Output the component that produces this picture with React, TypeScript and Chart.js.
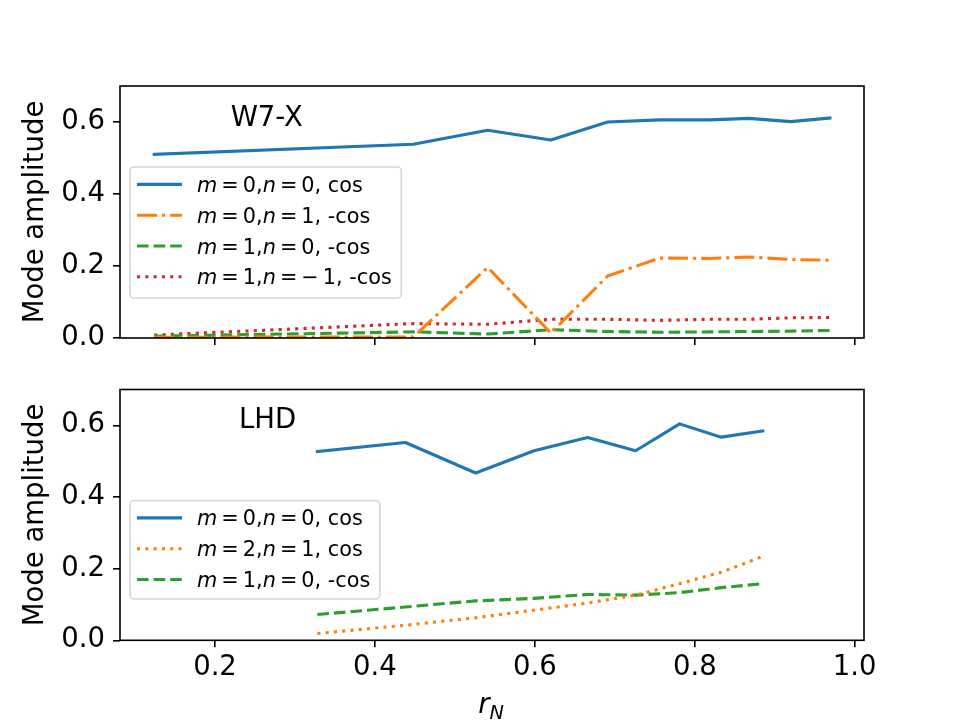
import React, { useEffect, useRef } from 'react';
import { Chart, registerables } from 'chart.js';
Chart.register(...registerables);

// ---------- data ----------
const W7X_R = [0.124, 0.448, 0.541, 0.62, 0.691, 0.756, 0.819, 0.868, 0.92, 0.969];
const W7X_M0N0_COS = [0.51, 0.538, 0.577, 0.55, 0.6, 0.606, 0.606, 0.61, 0.601, 0.611];
const W7X_M0N1_MCOS = [0.002, 0.003, 0.196, 0.014, 0.172, 0.222, 0.221, 0.225, 0.218, 0.216];
const W7X_M1N0_MCOS = [0.005, 0.017, 0.011, 0.023, 0.018, 0.016, 0.017, 0.018, 0.019, 0.021];
const W7X_M1NM1_MCOS = [0.008, 0.04, 0.038, 0.052, 0.052, 0.049, 0.052, 0.052, 0.056, 0.057];

const LHD_R = [0.328, 0.438, 0.526, 0.599, 0.666, 0.726, 0.781, 0.833, 0.885];
const LHD_M0N0_COS = [0.527, 0.552, 0.467, 0.529, 0.566, 0.529, 0.604, 0.567, 0.584];
const LHD_M2N1_COS = [0.019, 0.042, 0.063, 0.084, 0.104, 0.126, 0.158, 0.19, 0.234];
const LHD_M1N0_MCOS = [0.072, 0.093, 0.11, 0.117, 0.128, 0.126, 0.133, 0.147, 0.158];

const W7X_LABELS = ['m = 0,n = 0, cos', 'm = 0,n = 1, -cos', 'm = 1,n = 0, -cos', 'm = 1,n = − 1, -cos'];
const LHD_LABELS = ['m = 0,n = 0, cos', 'm = 2,n = 1, cos', 'm = 1,n = 0, -cos'];

const X_TICK_STEP = 0.2;
const Y_TICK_STEP = 0.2;
const X_MIN = 0.0812;
const X_MAX = 1.0116;
const Y_MIN = 0;
const Y_MAX = 0.7;

// ---------- style ----------
const FAMILY = '"DejaVu Sans", sans-serif';
const TICK_PX = 27.5;
const LEG_PX = 20.8;
const BLUE = '#1f77b4';
const ORANGE = '#ff7f0e';
const GREEN = '#2ca02c';
const RED = '#d62728';
const SOLID: number[] = [];
const DASHED = [11.6, 5];
const DASHDOT = [20, 5, 3.1, 5];
const DOTTED = [3.1, 5.2];

type Series = { label: string; values: number[]; color: string; dash: number[] };

function drawMathText(ctx: CanvasRenderingContext2D, text: string, x: number, y: number, px: number) {
  let cx = x;
  const chars = Array.from(text);
  for (let i = 0; i < chars.length; i++) {
    const ch = chars[i];
    if (ch === ' ') {
      const prev = chars[i - 1];
      const next = chars[i + 1];
      if (prev === '=' || next === '=' || prev === '−' || next === '−') {
        cx += 0.195 * px;
      } else {
        ctx.font = `${px}px ${FAMILY}`;
        cx += ctx.measureText(' ').width;
      }
      continue;
    }
    const italic = ch === 'm' || ch === 'n';
    ctx.font = `${italic ? 'italic ' : ''}${px}px ${FAMILY}`;
    ctx.fillText(ch, cx, y);
    cx += ctx.measureText(ch).width;
  }
  return cx - x;
}

function measureMathText(ctx: CanvasRenderingContext2D, text: string, px: number) {
  ctx.save();
  ctx.globalAlpha = 0;
  const w = drawMathText(ctx, text, -9999, -9999, px);
  ctx.restore();
  return w;
}

function makePlugin(opts: {
  name: string; nameX: number; nameY: number; xLabel: boolean;
  legendBottomOffset: number; rowPitch: number;
}) {
  return {
    id: 'mplDecor',
    afterDraw(chart: any) {
      const { ctx, chartArea: a, scales } = chart;
      ctx.save();
      // frame
      ctx.strokeStyle = '#000';
      ctx.lineWidth = 1.6;
      ctx.setLineDash([]);
      ctx.strokeRect(a.left, a.top, a.right - a.left, a.bottom - a.top);

      // y label
      ctx.fillStyle = '#000';
      ctx.save();
      ctx.translate(42.7, (a.top + a.bottom) / 2);
      ctx.rotate(-Math.PI / 2);
      ctx.font = `${TICK_PX}px ${FAMILY}`;
      ctx.textAlign = 'center';
      ctx.textBaseline = 'alphabetic';
      ctx.fillText('Mode amplitude', 0, 0);
      ctx.restore();

      // device name
      ctx.font = `${TICK_PX}px ${FAMILY}`;
      ctx.textAlign = 'left';
      ctx.textBaseline = 'alphabetic';
      ctx.fillText(opts.name, scales.x.getPixelForValue(opts.nameX), scales.y.getPixelForValue(opts.nameY));

      // legend
      const ds = chart.data.datasets;
      const n = ds.length;
      let maxW = 0;
      for (const d of ds) maxW = Math.max(maxW, measureMathText(ctx, d.label, LEG_PX));
      const bx = a.left + 10;
      const bh = opts.rowPitch * n + (n === 4 ? 7.8 : 6.1);
      const by = a.bottom - opts.legendBottomOffset - bh;
      const bw = 67 + maxW + 9.5;
      const r = 4;
      ctx.beginPath();
      ctx.moveTo(bx + r, by);
      ctx.lineTo(bx + bw - r, by);
      ctx.arcTo(bx + bw, by, bx + bw, by + r, r);
      ctx.lineTo(bx + bw, by + bh - r);
      ctx.arcTo(bx + bw, by + bh, bx + bw - r, by + bh, r);
      ctx.lineTo(bx + r, by + bh);
      ctx.arcTo(bx, by + bh, bx, by + bh - r, r);
      ctx.lineTo(bx, by + r);
      ctx.arcTo(bx, by, bx + r, by, r);
      ctx.closePath();
      ctx.fillStyle = 'rgba(255,255,255,0.8)';
      ctx.fill();
      ctx.strokeStyle = 'rgba(204,204,204,0.8)';
      ctx.lineWidth = 1.6;
      ctx.stroke();
      for (let i = 0; i < n; i++) {
        const d = ds[i];
        const ry = by + 17.4 + i * opts.rowPitch;
        ctx.beginPath();
        ctx.strokeStyle = d.borderColor;
        ctx.lineWidth = 3.1;
        ctx.setLineDash(d.borderDash || []);
        ctx.lineCap = d.borderDash && d.borderDash.length ? 'butt' : 'square';
        if (ctx.lineCap === 'square') {
          ctx.moveTo(bx + 8.5, ry);
          ctx.lineTo(bx + 50.5, ry);
        } else {
          ctx.moveTo(bx + 7, ry);
          ctx.lineTo(bx + 52, ry);
        }
        ctx.stroke();
        ctx.setLineDash([]);
        ctx.fillStyle = '#000';
        ctx.textAlign = 'left';
        ctx.textBaseline = 'alphabetic';
        drawMathText(ctx, d.label, bx + 67, ry + 7.5, LEG_PX);
      }

      // x label
      if (opts.xLabel) {
        const cx = (a.left + a.right) / 2;
        ctx.fillStyle = '#000';
        ctx.font = `italic ${TICK_PX}px ${FAMILY}`;
        const wr = ctx.measureText('r').width;
        ctx.font = `italic ${TICK_PX * 0.7}px ${FAMILY}`;
        const wn = ctx.measureText('N').width;
        const sx = cx - (wr + wn) / 2 - 1;
        const base = a.bottom + 72.7;
        ctx.font = `italic ${TICK_PX}px ${FAMILY}`;
        ctx.fillText('r', sx, base);
        ctx.font = `italic ${TICK_PX * 0.7}px ${FAMILY}`;
        ctx.fillText('N', sx + wr, base + 6);
      }
      ctx.restore();
    },
  };
}

function buildConfig(xs: number[], series: Series[], o: {
  name: string; nameX: number; nameY: number; showX: boolean; padTop: number; xAxisH: number;
  legendBottomOffset: number;
}) {
  const datasets = series.map((s) => ({
    label: s.label,
    data: xs.map((x, i) => ({ x, y: s.values[i] })),
    borderColor: s.color,
    backgroundColor: s.color,
    borderWidth: 3.1,
    borderDash: s.dash,
    borderCapStyle: s.dash.length ? 'butt' : 'square',
    borderJoinStyle: 'round',
    pointRadius: 0,
    pointHoverRadius: 0,
    fill: false,
    tension: 0,
  }));
  const gridCommon = {
    drawOnChartArea: false,
    drawTicks: true,
    tickLength: 7,
    tickWidth: 1.6,
    tickColor: '#000',
    color: '#000',
    lineWidth: 1.6,
  };
  return {
    type: 'line',
    data: { datasets },
    options: {
      responsive: false,
      animation: false,
      devicePixelRatio: 1,
      events: [],
      layout: { padding: { top: o.padTop, right: 96, left: 0, bottom: 0 } },
      plugins: { legend: { display: false }, tooltip: { enabled: false }, title: { display: false } },
      scales: {
        x: {
          type: 'linear',
          min: X_MIN,
          max: X_MAX,
          border: { display: false },
          grid: gridCommon,
          ticks: {
            display: o.showX,
            stepSize: X_TICK_STEP,
            includeBounds: false,
            autoSkip: false,
            maxRotation: 0,
            color: '#000',
            padding: 4,
            font: { family: FAMILY, size: TICK_PX },
            callback: (v: any) => Number(v).toFixed(1),
          },
          afterFit: (s: any) => { s.height = o.xAxisH; },
        },
        y: {
          type: 'linear',
          min: Y_MIN,
          max: Y_MAX,
          border: { display: false },
          grid: gridCommon,
          ticks: {
            stepSize: Y_TICK_STEP,
            includeBounds: false,
            color: '#000',
            padding: 8,
            font: { family: FAMILY, size: TICK_PX },
            callback: (v: any) => Number(v).toFixed(1),
          },
          afterFit: (s: any) => { s.width = 120; },
        },
      },
    },
    plugins: [makePlugin({
      name: o.name, nameX: o.nameX, nameY: o.nameY, xLabel: o.showX,
      legendBottomOffset: o.legendBottomOffset, rowPitch: 30.8,
    })],
  };
}

function Panel(props: { height: number; top: number; cfg: () => any }) {
  const ref = useRef<HTMLCanvasElement>(null);
  useEffect(() => {
    const chart = new Chart(ref.current as HTMLCanvasElement, props.cfg() as any);
    return () => chart.destroy();
  }, []);
  return (
    <canvas
      ref={ref}
      width={960}
      height={props.height}
      style={{ position: 'absolute', left: 0, top: props.top, width: 960, height: props.height, display: 'block' }}
    />
  );
}

export default function App() {
  const topSeries: Series[] = [
    { label: W7X_LABELS[0], values: W7X_M0N0_COS, color: BLUE, dash: SOLID },
    { label: W7X_LABELS[1], values: W7X_M0N1_MCOS, color: ORANGE, dash: DASHDOT },
    { label: W7X_LABELS[2], values: W7X_M1N0_MCOS, color: GREEN, dash: DASHED },
    { label: W7X_LABELS[3], values: W7X_M1NM1_MCOS, color: RED, dash: DOTTED },
  ];
  const botSeries: Series[] = [
    { label: LHD_LABELS[0], values: LHD_M0N0_COS, color: BLUE, dash: SOLID },
    { label: LHD_LABELS[1], values: LHD_M2N1_COS, color: ORANGE, dash: DOTTED },
    { label: LHD_LABELS[2], values: LHD_M1N0_MCOS, color: GREEN, dash: DASHED },
  ];
  return (
    <div style={{ position: 'absolute', left: 0, top: 0, width: 960, height: 720, background: '#fff', overflow: 'hidden' }}>
      <Panel
        height={365}
        top={0}
        cfg={() => buildConfig(W7X_R, topSeries, {
          name: 'W7-X', nameX: 0.2196, nameY: 0.59, showX: false, padTop: 86, xAxisH: 365 - 338,
          legendBottomOffset: 40,
        })}
      />
      <Panel
        height={355}
        top={365}
        cfg={() => buildConfig(LHD_R, botSeries, {
          name: 'LHD', nameX: 0.23, nameY: 0.593, showX: true, padTop: 23.3, xAxisH: 355 - 275.3,
          legendBottomOffset: 41.3,
        })}
      />
    </div>
  );
}
